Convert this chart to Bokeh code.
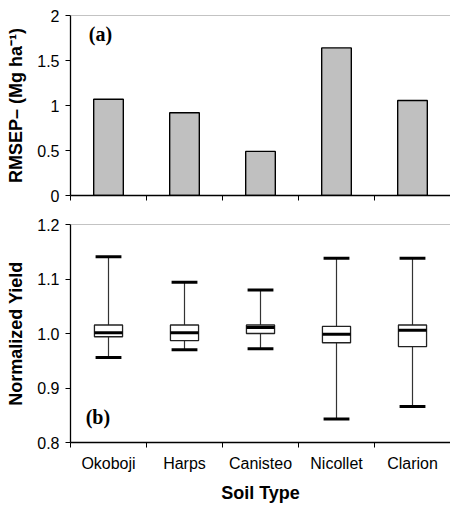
from bokeh.plotting import figure
from bokeh.layouts import column
from bokeh.models import FixedTicker, Range1d, Span, Label, NumeralTickFormatter
from bokeh.embed import file_html
from bokeh.resources import INLINE

soils = ["Okoboji", "Harps", "Canisteo", "Nicollet", "Clarion"]
rmsep = [1.07, 0.92, 0.49, 1.64, 1.055]

whisker_low = [0.956, 0.970, 0.972, 0.843, 0.866]
q1 = [0.994, 0.987, 1.000, 0.983, 0.976]
median = [1.0015, 1.0015, 1.011, 0.9985, 1.006]
q3 = [1.0156, 1.0156, 1.0156, 1.013, 1.0156]
whisker_high = [1.141, 1.094, 1.080, 1.138, 1.138]

rmsep_ticks = [0, 0.5, 1, 1.5, 2]
yield_ticks = [0.8, 0.9, 1.0, 1.1, 1.2]

n = len(soils)
xc = [i + 0.5 for i in range(n)]
bounds = list(range(n + 1))

SANS = "Liberation Sans"
SERIF = "Liberation Serif"


def style_common(p, labelled):
    p.grid.visible = False
    p.outline_line_color = None
    p.background_fill_color = "white"
    p.border_fill_color = "white"
    for ax in (p.xaxis[0], p.yaxis[0]):
        ax.axis_line_color = "black"
        ax.axis_line_width = 1.3
        ax.major_tick_line_color = "black"
        ax.minor_tick_line_color = "black"
        ax.major_label_text_font = SANS
        ax.major_label_text_font_size = "16px"
        ax.major_label_text_color = "black"
        ax.axis_label_text_font = SANS
        ax.axis_label_text_font_style = "bold"
        ax.axis_label_text_font_size = "18px"
        ax.axis_label_text_color = "black"
    y = p.yaxis[0]
    y.major_tick_in = 0
    y.major_tick_out = 5
    y.minor_tick_line_color = None
    y.major_label_standoff = 6
    y.axis_label_standoff = 8
    x = p.xaxis[0]
    x.ticker = FixedTicker(ticks=xc if labelled else [], minor_ticks=bounds)
    x.major_tick_in = 0
    x.major_tick_out = 0
    x.minor_tick_in = 0
    x.minor_tick_out = 5


# ---------- panel (a) ----------
p1 = figure(width=450, height=210, output_backend="svg", toolbar_location=None,
            x_range=Range1d(0, 5), y_range=Range1d(0, 2),
            min_border_left=70, min_border_right=0, min_border_top=15, min_border_bottom=15)
style_common(p1, False)
p1.vbar(x=xc, top=rmsep, bottom=0, width=0.39, fill_color="#c0c0c0",
        line_color="black", line_width=1.4)
p1.yaxis[0].ticker = FixedTicker(ticks=rmsep_ticks)
p1.yaxis[0].major_label_overrides = {t: ("%g" % t) for t in rmsep_ticks}
p1.yaxis[0].axis_label = "RMSEP– (Mg ha⁻¹)"
p1.xaxis[0].major_label_standoff = 0
p1.add_layout(Span(location=2, dimension="width", line_color="#888888", line_width=1.2))
p1.add_layout(Label(x=0.24, y=1.8, text="(a)", text_font=SERIF, text_font_style="bold",
                    text_font_size="20px", text_baseline="middle", text_color="black"))

# ---------- panel (b) ----------
p2 = figure(width=450, height=296, output_backend="svg", toolbar_location=None,
            x_range=Range1d(0, 5), y_range=Range1d(0.8, 1.2),
            min_border_left=70, min_border_right=0, min_border_top=14, min_border_bottom=64)
style_common(p2, True)
p2.yaxis[0].ticker = FixedTicker(ticks=yield_ticks)
p2.yaxis[0].formatter = NumeralTickFormatter(format="0.0")
p2.yaxis[0].axis_label = "Normalized Yield"
p2.xaxis[0].major_label_overrides = {c: s for c, s in zip(xc, soils)}
p2.xaxis[0].major_label_standoff = 7
p2.xaxis[0].axis_label = "Soil Type"
p2.xaxis[0].axis_label_standoff = 8
p2.add_layout(Span(location=1.2, dimension="width", line_color="#888888", line_width=1.2))

cap_w = 0.34
box_w = 0.37
p2.segment(x0=xc, y0=whisker_low, x1=xc, y1=whisker_high, line_color="#333333", line_width=1.2)
p2.vbar(x=xc, bottom=q1, top=q3, width=box_w, fill_color="white",
        line_color="#222222", line_width=1.3)
p2.segment(x0=[c - box_w / 2 for c in xc], y0=median, x1=[c + box_w / 2 for c in xc], y1=median,
           line_color="black", line_width=3)
p2.segment(x0=[c - cap_w / 2 for c in xc], y0=whisker_high, x1=[c + cap_w / 2 for c in xc],
           y1=whisker_high, line_color="black", line_width=3)
p2.segment(x0=[c - cap_w / 2 for c in xc], y0=whisker_low, x1=[c + cap_w / 2 for c in xc],
           y1=whisker_low, line_color="black", line_width=3)
p2.add_layout(Label(x=0.2, y=0.846, text="(b)", text_font=SERIF, text_font_style="bold",
                    text_font_size="20px", text_baseline="middle", text_color="black"))

layout = column(p1, p2, spacing=0)
open("out.html", "w").write(file_html(layout, INLINE))
